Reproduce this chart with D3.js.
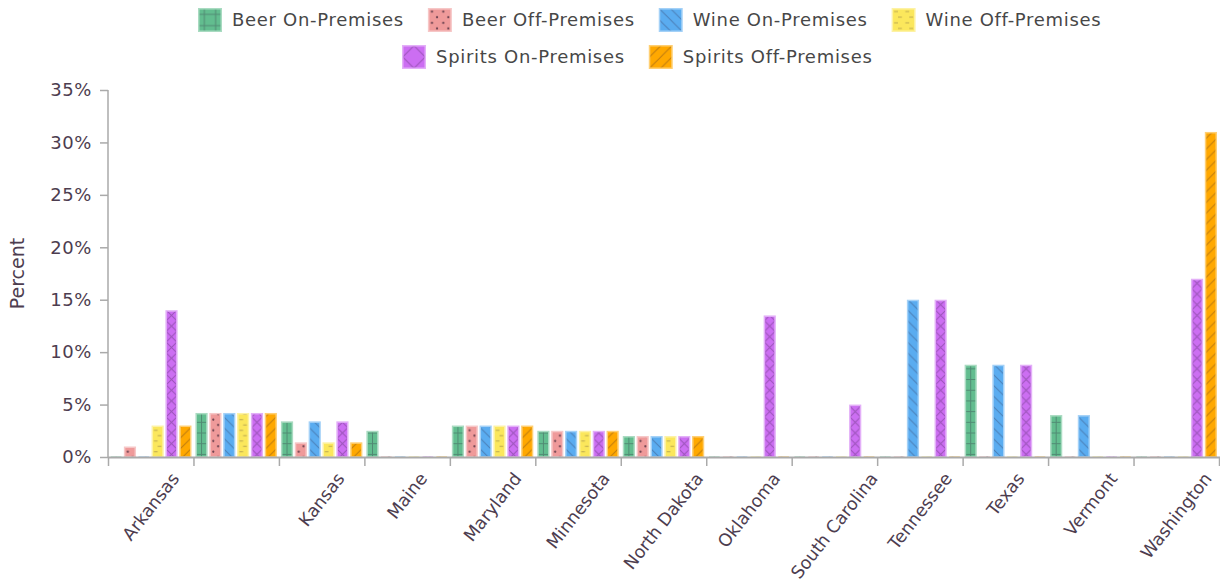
<!DOCTYPE html>
<html>
<head>
<meta charset="utf-8">
<script src="https://cdn.jsdelivr.net/npm/d3@7"></script>
<style>
  html, body { margin: 0; padding: 0; background: #ffffff; }
  svg { display: block; font-family: "DejaVu Sans", Verdana, sans-serif; }
</style>
</head>
<body>
<svg id="chart" width="1220" height="582"></svg>
<script>
// ---------- data ----------
const categories = ["Arkansas", "", "Kansas", "Maine", "Maryland", "Minnesota", "North Dakota",
  "Oklahoma", "South Carolina", "Tennessee", "Texas", "Vermont", "Washington"];
const seriesNames = ["Beer On-Premises", "Beer Off-Premises", "Wine On-Premises",
  "Wine Off-Premises", "Spirits On-Premises", "Spirits Off-Premises"];
const beerOn     = [0,   4.2, 3.4, 2.5, 3.0, 2.5, 2.0, 0,    0,   0,  8.8, 4.0, 0];
const beerOff    = [1.0, 4.2, 1.4, 0,   3.0, 2.5, 2.0, 0,    0,   0,  0,   0,   0];
const wineOn     = [0,   4.2, 3.4, 0,   3.0, 2.5, 2.0, 0,    0,   15, 8.8, 4.0, 0];
const wineOff    = [3.0, 4.2, 1.4, 0,   3.0, 2.5, 2.0, 0,    0,   0,  0,   0,   0];
const spiritsOn  = [14.0,4.2, 3.4, 0,   3.0, 2.5, 2.0, 13.5, 5.0, 15, 8.8, 0,   17.0];
const spiritsOff = [3.0, 4.2, 1.4, 0,   3.0, 2.5, 2.0, 0,    0,   0,  0,   0,   31.0];
const seriesValues = [beerOn, beerOff, wineOn, wineOff, spiritsOn, spiritsOff];
const yTicks = [0, 5, 10, 15, 20, 25, 30, 35];
const yTitle = "Percent";

// ---------- styles ----------
const colors = ["#62bd8f", "#ef9a9a", "#5aacf0", "#fbe75c", "#cc6ef2", "#ffa800"];
const axisColor = "#aaaaaa";
const textColor = "#4d3d4f";
const legendTextColor = "#474747";

const svg = d3.select("#chart");
const margin = { left: 108, right: 1219, top: 90, bottom: 457 };

// ---------- scales ----------
const x = d3.scaleBand().domain(d3.range(categories.length)).range([margin.left, margin.right]).padding(0);
const x1 = d3.scaleBand().domain(d3.range(seriesNames.length))
  .range([2, x.bandwidth() - 2]).paddingInner(0.12).paddingOuter(0);
const y = d3.scaleLinear().domain([0, 35]).range([margin.bottom, margin.top]);
const barW = x1.bandwidth() - 1.5;

// ---------- patterns ----------
const defs = svg.append("defs");
const lineCol = "rgba(40,20,50,0.3)";
function makePattern(i, prefix, offX, w) {
  const id = prefix + i;
  const p = defs.append("pattern").attr("id", id).attr("patternUnits", "userSpaceOnUse")
    .attr("x", offX).attr("y", 0).attr("width", w).attr("height", w);
  p.append("rect").attr("width", w).attr("height", w).attr("fill", colors[i]);
  const g = p.append("g").attr("stroke", lineCol).attr("stroke-width", 1).attr("fill", "none");
  const h = w / 2;
  if (i === 0) { // grid
    g.append("path").attr("d", `M${h},0 V${w} M0,${h} H${w}`);
  } else if (i === 1) { // dots
    p.append("circle").attr("cx", w * 0.3).attr("cy", w * 0.25).attr("r", 1.1).attr("fill", "rgba(40,20,40,0.65)");
    p.append("circle").attr("cx", w * 0.75).attr("cy", w * 0.75).attr("r", 1.1).attr("fill", "rgba(40,20,40,0.65)");
  } else if (i === 2) { // back diagonal
    g.append("path").attr("d", `M0,0 L${w},${w} M${-h},${h} L${h},${w + h} M${h},${-h} L${w + h},${h}`);
  } else if (i === 3) { // dashes
    g.append("path").attr("d", `M${w * 0.15},${w * 0.25} H${w * 0.5} M${w * 0.5},${w * 0.75} H${w * 0.85}`);
  } else if (i === 4) { // crosses
    g.append("path").attr("d", `M0,0 L${w},${w} M${w},0 L0,${w}`);
  } else if (i === 5) { // forward diagonal
    g.append("path").attr("d", `M0,${w} L${w},0 M${-h},${h} L${h},${-h} M${h},${w + h} L${w + h},${h}`);
  }
  return "url(#" + id + ")";
}
const fills = colors.map((c, i) => makePattern(i, "bar", x1(i) + 0.75, barW));
const legendFills = colors.map((c, i) => makePattern(i, "leg", 0.75, i === 4 ? 22.5 : 11.25));
const strokes = colors.map(c => d3.interpolateRgb(c, "#ffffff")(0.45));

// ---------- bars ----------
const groups = svg.append("g").selectAll("g").data(categories).join("g")
  .attr("transform", (d, i) => `translate(${x(i)},0)`);
groups.selectAll("rect")
  .data((d, ci) => seriesValues.map((vals, si) => ({ si, v: vals[ci] })))
  .join("rect")
  .attr("x", d => x1(d.si) + 0.75)
  .attr("width", barW)
  .attr("y", d => d.v > 0 ? y(d.v) + 0.75 : y(0) - 1)
  .attr("height", d => d.v > 0 ? Math.max(0, y(0) - y(d.v) - 0.75) : 1)
  .attr("fill", d => fills[d.si])
  .attr("stroke", d => d.v > 0 ? strokes[d.si] : "none")
  .attr("stroke-width", 1.5)
  .attr("opacity", d => d.v > 0 ? 1 : 0.35);

// ---------- y axis ----------
const yAxis = svg.append("g").attr("transform", `translate(${margin.left},0)`)
  .call(d3.axisLeft(y).tickValues(yTicks).tickFormat(d => d + "%").tickSize(8).tickPadding(8));
yAxis.select(".domain").attr("stroke", axisColor).attr("stroke-width", 1.5).attr("d", `M0,${margin.top}V${margin.bottom}`);
yAxis.selectAll(".tick line").attr("stroke", axisColor).attr("stroke-width", 1.5);
yAxis.selectAll(".tick text").attr("fill", textColor).attr("font-size", 18)
  .attr("letter-spacing", 0.6)
  .attr("font-family", "'DejaVu Sans', Verdana, sans-serif");

svg.append("text")
  .attr("transform", `translate(24,${(margin.top + margin.bottom) / 2}) rotate(-90)`)
  .attr("text-anchor", "middle")
  .attr("fill", textColor).attr("font-size", 19)
  .text(yTitle);

// ---------- x axis ----------
const xAxisG = svg.append("g");
xAxisG.append("line").attr("x1", margin.left).attr("x2", margin.right + 1)
  .attr("y1", margin.bottom + 0.5).attr("y2", margin.bottom + 0.5)
  .attr("stroke", axisColor).attr("stroke-width", 2);
const boundaries = d3.range(categories.length + 1);
xAxisG.selectAll("line.tk").data(boundaries).join("line").attr("class", "tk")
  .attr("x1", i => (i < categories.length ? x(i) : margin.right) + 0.5)
  .attr("x2", i => (i < categories.length ? x(i) : margin.right) + 0.5)
  .attr("y1", margin.bottom).attr("y2", margin.bottom + 9)
  .attr("stroke", axisColor).attr("stroke-width", 1.5);

const angle = -52;
const labelTop = 469;
xAxisG.selectAll("text.lbl").data(categories).join("text").attr("class", "lbl")
  .attr("text-anchor", "end")
  .attr("fill", textColor).attr("font-size", 17.5)
  .text(d => d)
  .each(function (d, i) {
    if (!d) return;
    const bb = this.getBBox();
    const rad = angle * Math.PI / 180;
    const c = Math.cos(rad), s = Math.sin(rad);
    const pts = [[bb.x, bb.y], [bb.x + bb.width, bb.y], [bb.x, bb.y + bb.height], [bb.x + bb.width, bb.y + bb.height]]
      .map(([px, py]) => [px * c - py * s, px * s + py * c]);
    const minX = d3.min(pts, p => p[0]), maxX = d3.max(pts, p => p[0]);
    const minY = d3.min(pts, p => p[1]);
    const cx = x(i) + x.bandwidth() / 2;
    d3.select(this).attr("transform",
      `translate(${cx - (minX + maxX) / 2},${labelTop - minY}) rotate(${angle})`);
  });

// ---------- legend ----------
const legendRows = [
  { start: 198, cy: 20, items: [0, 1, 2, 3] },
  { start: 402, cy: 57, items: [4, 5] }
];
const legend = svg.append("g");
legendRows.forEach(row => {
  let cx = row.start;
  row.items.forEach(si => {
    const g = legend.append("g").attr("transform", `translate(${cx},${row.cy})`);
    g.append("rect").attr("x", 0.75).attr("y", -11.25).attr("width", 22.5).attr("height", 22.5)
      .attr("fill", legendFills[si]).attr("stroke", strokes[si]).attr("stroke-width", 1.5);
    const t = g.append("text").attr("x", 34).attr("y", 0).attr("dy", "0.35em")
      .attr("fill", legendTextColor).attr("font-size", 18).attr("letter-spacing", 0.7)
      .text(seriesNames[si]);
    cx += 34 + t.node().getComputedTextLength() + 24;
  });
});
</script>
</body>
</html>
